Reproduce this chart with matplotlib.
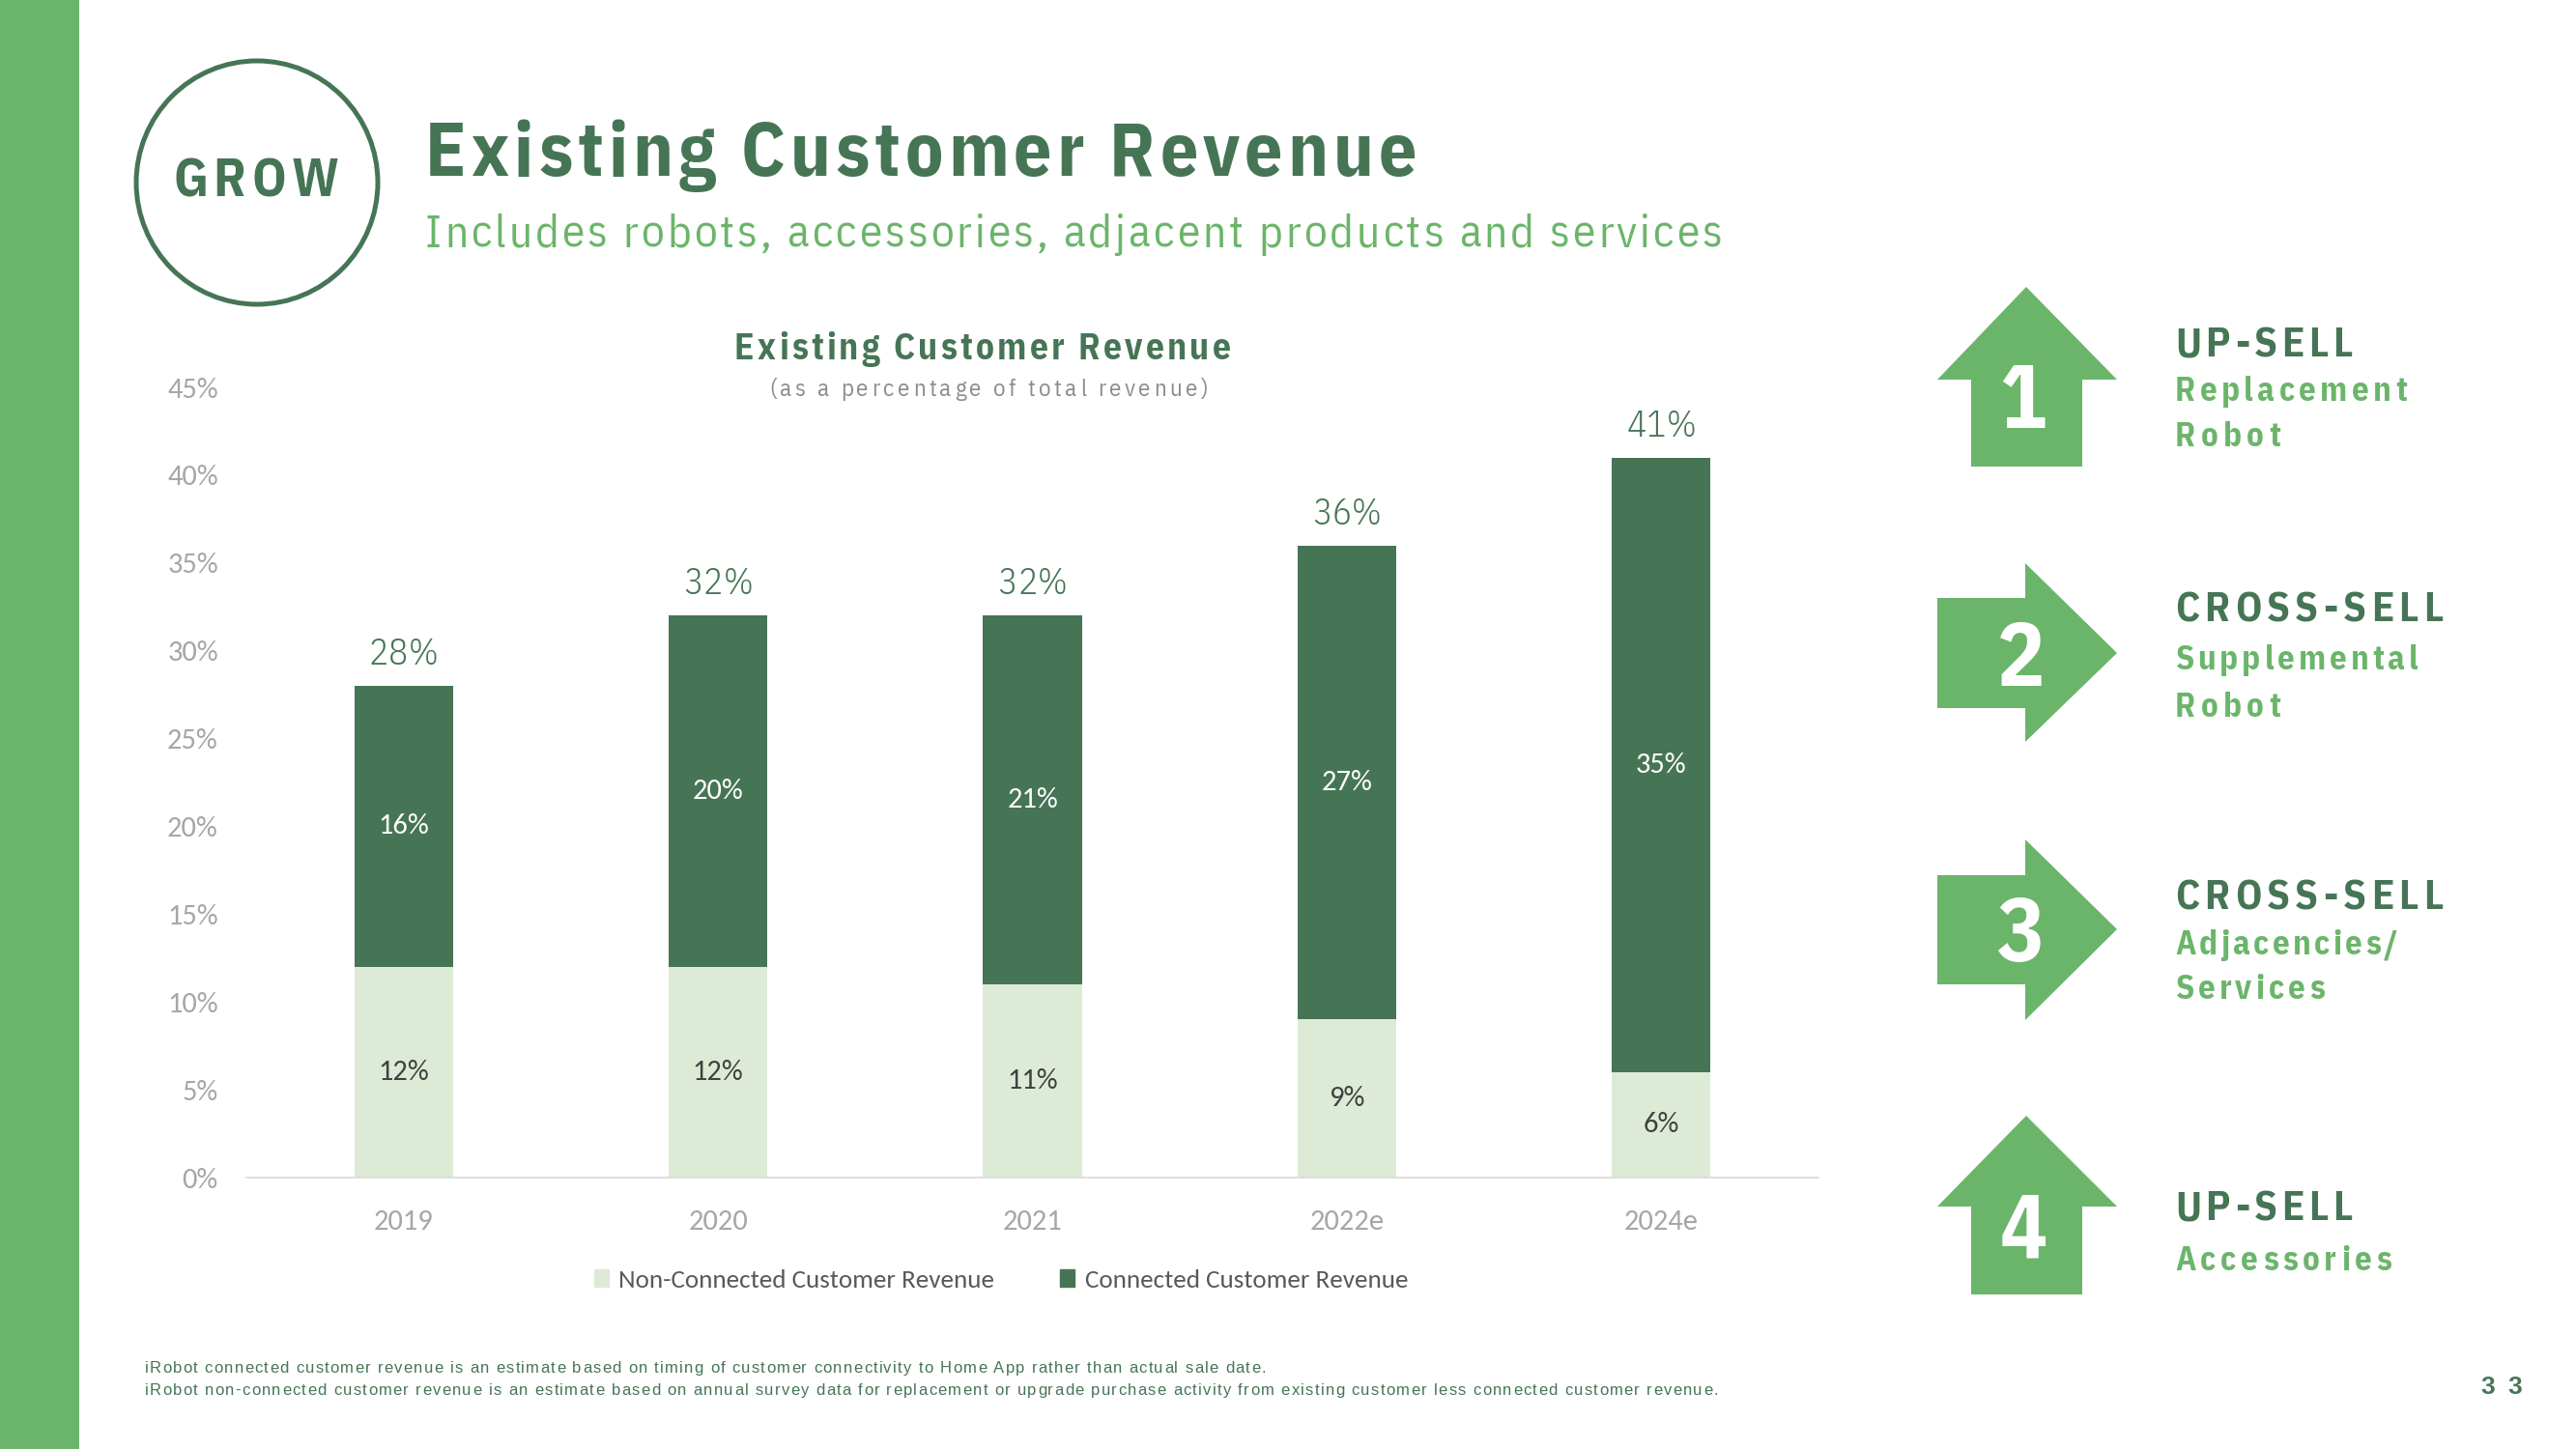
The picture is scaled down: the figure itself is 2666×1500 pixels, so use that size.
import matplotlib
matplotlib.use("Agg")
import matplotlib.pyplot as plt
from matplotlib import font_manager
from matplotlib.font_manager import FontProperties, findfont
from matplotlib.ft2font import FT2Font
from matplotlib.patches import Polygon, Ellipse, Rectangle, Patch

try:
    from matplotlib.ft2font import LoadFlags
    NO_HINT = LoadFlags.NO_HINTING
except ImportError:
    from matplotlib.ft2font import LOAD_NO_HINTING as NO_HINT

# data
years = ["2019", "2020", "2021", "2022e", "2024e"]
non_connected = [12, 12, 11, 9, 6]
connected = [16, 20, 21, 27, 35]
totals = [28, 32, 32, 36, 41]
y_ticks = [0, 5, 10, 15, 20, 25, 30, 35, 40, 45]
series_names = ["Non-Connected Customer Revenue", "Connected Customer Revenue"]

# colours
GREEN = "#6BB56A"
DARK = "#467556"
LIGHT = "#DDEBD6"
GRAY = "#A6A6A6"
TXT = "#404040"

W, H, DPI = 2666, 1500, 100

names = {f.name for f in font_manager.fontManager.ttflist}


def pick(*cands):
    for c in cands:
        if c in names:
            return c
    return "DejaVu Sans"


SANS = pick("Liberation Sans", "Arimo")
NARROW = pick("Liberation Sans Narrow", "IBM Plex Sans Condensed", "Liberation Sans")
BODY = pick("Carlito", "Lato")

plt.rcParams["font.family"] = [BODY, "DejaVu Sans"]

fig = plt.figure(figsize=(W / DPI, H / DPI), dpi=DPI)


def advances(s, family, weight, size):
    fp = FontProperties(family=family, weight=weight, size=size)
    ft = FT2Font(findfont(fp))
    ft.set_size(size, DPI)
    return [ft.load_char(ord(c), flags=NO_HINT).linearHoriAdvance / 65536 for c in s]


def spaced(x, y, s, size, color, weight="normal", family=SANS, width=None, ha="left"):
    # x, y in pixels from the top-left corner, y is the baseline
    y = H - y
    adv = advances(s, family, weight, size)
    track = 0.0
    if width is not None and len(s) > 1:
        track = (width - sum(adv)) / (len(s) - 1)
    if abs(track) < 0.3:
        fig.text(x / W, y / H, s, fontsize=size, color=color, weight=weight,
                 family=family, ha=ha, va="baseline")
        return
    total = sum(adv) + track * (len(s) - 1)
    if ha == "center":
        x -= total / 2
    elif ha == "right":
        x -= total
    for c, a in zip(s, adv):
        if c != " ":
            fig.text(x / W, y / H, c, fontsize=size, color=color, weight=weight,
                     family=family, ha="left", va="baseline")
        x += a + track


def px(x, y):
    return (x / W, 1 - y / H)


# left band and GROW badge
fig.add_artist(Rectangle((0, 0), 82 / W, 1, transform=fig.transFigure, color=GREEN, lw=0))
fig.add_artist(Ellipse(px(266, 189), 2 * 125 / W, 2 * 126 / H, transform=fig.transFigure,
                       fill=False, ec=DARK, lw=3.6))
spaced(265, 203, "GROW", 40, DARK, weight="bold", family=NARROW, width=172, ha="center")

# headings
spaced(440, 182, "Existing Customer Revenue", 56, DARK, weight="bold", family=NARROW, width=1026)
spaced(440, 256, "Includes robots, accessories, adjacent products and services", 34, GREEN,
       family=NARROW, width=1342)

# chart
ax = fig.add_axes([255 / W, 1 - 1219 / H, (1882 - 255) / W, 818 / H])
x = list(range(len(years)))
ax.bar(x, non_connected, width=0.314, color=LIGHT, label=series_names[0])
ax.bar(x, connected, width=0.314, bottom=non_connected, color=DARK, label=series_names[1])

for i in x:
    ax.text(i, non_connected[i] / 2, f"{non_connected[i]}%", ha="center", va="center",
            fontsize=22, color=TXT)
    ax.text(i, non_connected[i] + connected[i] / 2, f"{connected[i]}%", ha="center",
            va="center", fontsize=22, color="white")

ax.set_xlim(-0.5, len(years) - 0.5)
ax.set_ylim(0, 45)
ax.set_yticks(y_ticks)
ax.set_yticklabels([f"{v}%" for v in y_ticks])
ax.set_xticks(x)
ax.set_xticklabels(years)
ax.tick_params(axis="y", length=0, pad=21, labelsize=22, labelcolor=GRAY)
ax.tick_params(axis="x", length=0, pad=24, labelsize=22, labelcolor=GRAY)
for side in ["left", "top", "right"]:
    ax.spines[side].set_visible(False)
ax.spines["bottom"].set_color("#D9D9D9")
ax.spines["bottom"].set_linewidth(1.2)

leg = ax.legend(handles=[Patch(color=LIGHT, label=series_names[0]),
                         Patch(color=DARK, label=series_names[1])],
                loc="center", bbox_to_anchor=(0.48, -0.1296), ncol=2, frameon=False,
                fontsize=19.5, handlelength=0.55, handleheight=0.65, handletextpad=0.4,
                columnspacing=2.5)
for t in leg.get_texts():
    t.set_color("#595959")

# total labels above the bars
fig.canvas.draw()
for i in x:
    dx, dy = ax.transData.transform((i, totals[i]))
    spaced(dx, H - dy - 22, f"{totals[i]}%", 27, DARK, weight=300, family=NARROW,
           width=72, ha="center")

spaced(1017, 372, "Existing Customer Revenue", 27, DARK, weight="bold", family=NARROW,
       width=514, ha="center")
spaced(1023, 410, "(as a percentage of total revenue)", 18, "#8C8C8C", family=NARROW,
       width=454, ha="center")

# right-hand arrows
up_arrows = [(297, 393, 483, "1", 443), (1155, 1249, 1340, "4", 1301)]
for top, base, bottom, num, bl in up_arrows:
    pts = [(2097, top), (2191, base), (2155, base), (2155, bottom),
           (2040, bottom), (2040, base), (2005, base)]
    fig.add_artist(Polygon([px(a, b) for a, b in pts], closed=True,
                           transform=fig.transFigure, color=GREEN, lw=0))
    spaced(2094, bl, num, 66, "white", weight="bold", family=NARROW, ha="center")

right_arrows = [(583, 619, 733, 768, 676, "2", 710), (869, 906, 1019, 1056, 962, "3", 995)]
for htop, stop, sbot, hbot, tip, num, bl in right_arrows:
    pts = [(2005, stop), (2096, stop), (2096, htop), (2191, tip),
           (2096, hbot), (2096, sbot), (2005, sbot)]
    fig.add_artist(Polygon([px(a, b) for a, b in pts], closed=True,
                           transform=fig.transFigure, color=GREEN, lw=0))
    spaced(2092, bl, num, 66, "white", weight="bold", family=NARROW, ha="center")

side_heads = [("UP-SELL", 369, 184), ("CROSS-SELL", 643, 278),
              ("CROSS-SELL", 941, 278), ("UP-SELL", 1263, 184)]
for s, bl, w in side_heads:
    spaced(2251, bl, s, 31, DARK, weight="bold", family=NARROW, width=w)

side_lines = [("Replacement", 415, 240), ("Robot", 462, 109),
              ("Supplemental", 693, 252), ("Robot", 742, 109),
              ("Adjacencies/", 988, 231), ("Services", 1034, 155),
              ("Accessories", 1315, 224)]
for s, bl, w in side_lines:
    spaced(2251, bl, s, 25, GREEN, weight="bold", family=NARROW, width=w)

# footnotes and page number
spaced(150, 1421, "iRobot connected customer revenue is an estimate based on timing of customer "
       "connectivity to Home App rather than actual sale date.", 12, DARK, width=1160)
spaced(150, 1444, "iRobot non-connected customer revenue is an estimate based on annual survey data "
       "for replacement or upgrade purchase activity from existing customer less connected "
       "customer revenue.", 12, DARK, width=1628)
spaced(2567, 1443, "33", 19, DARK, weight="bold", width=43)

fig.savefig("out.png", dpi=DPI)
